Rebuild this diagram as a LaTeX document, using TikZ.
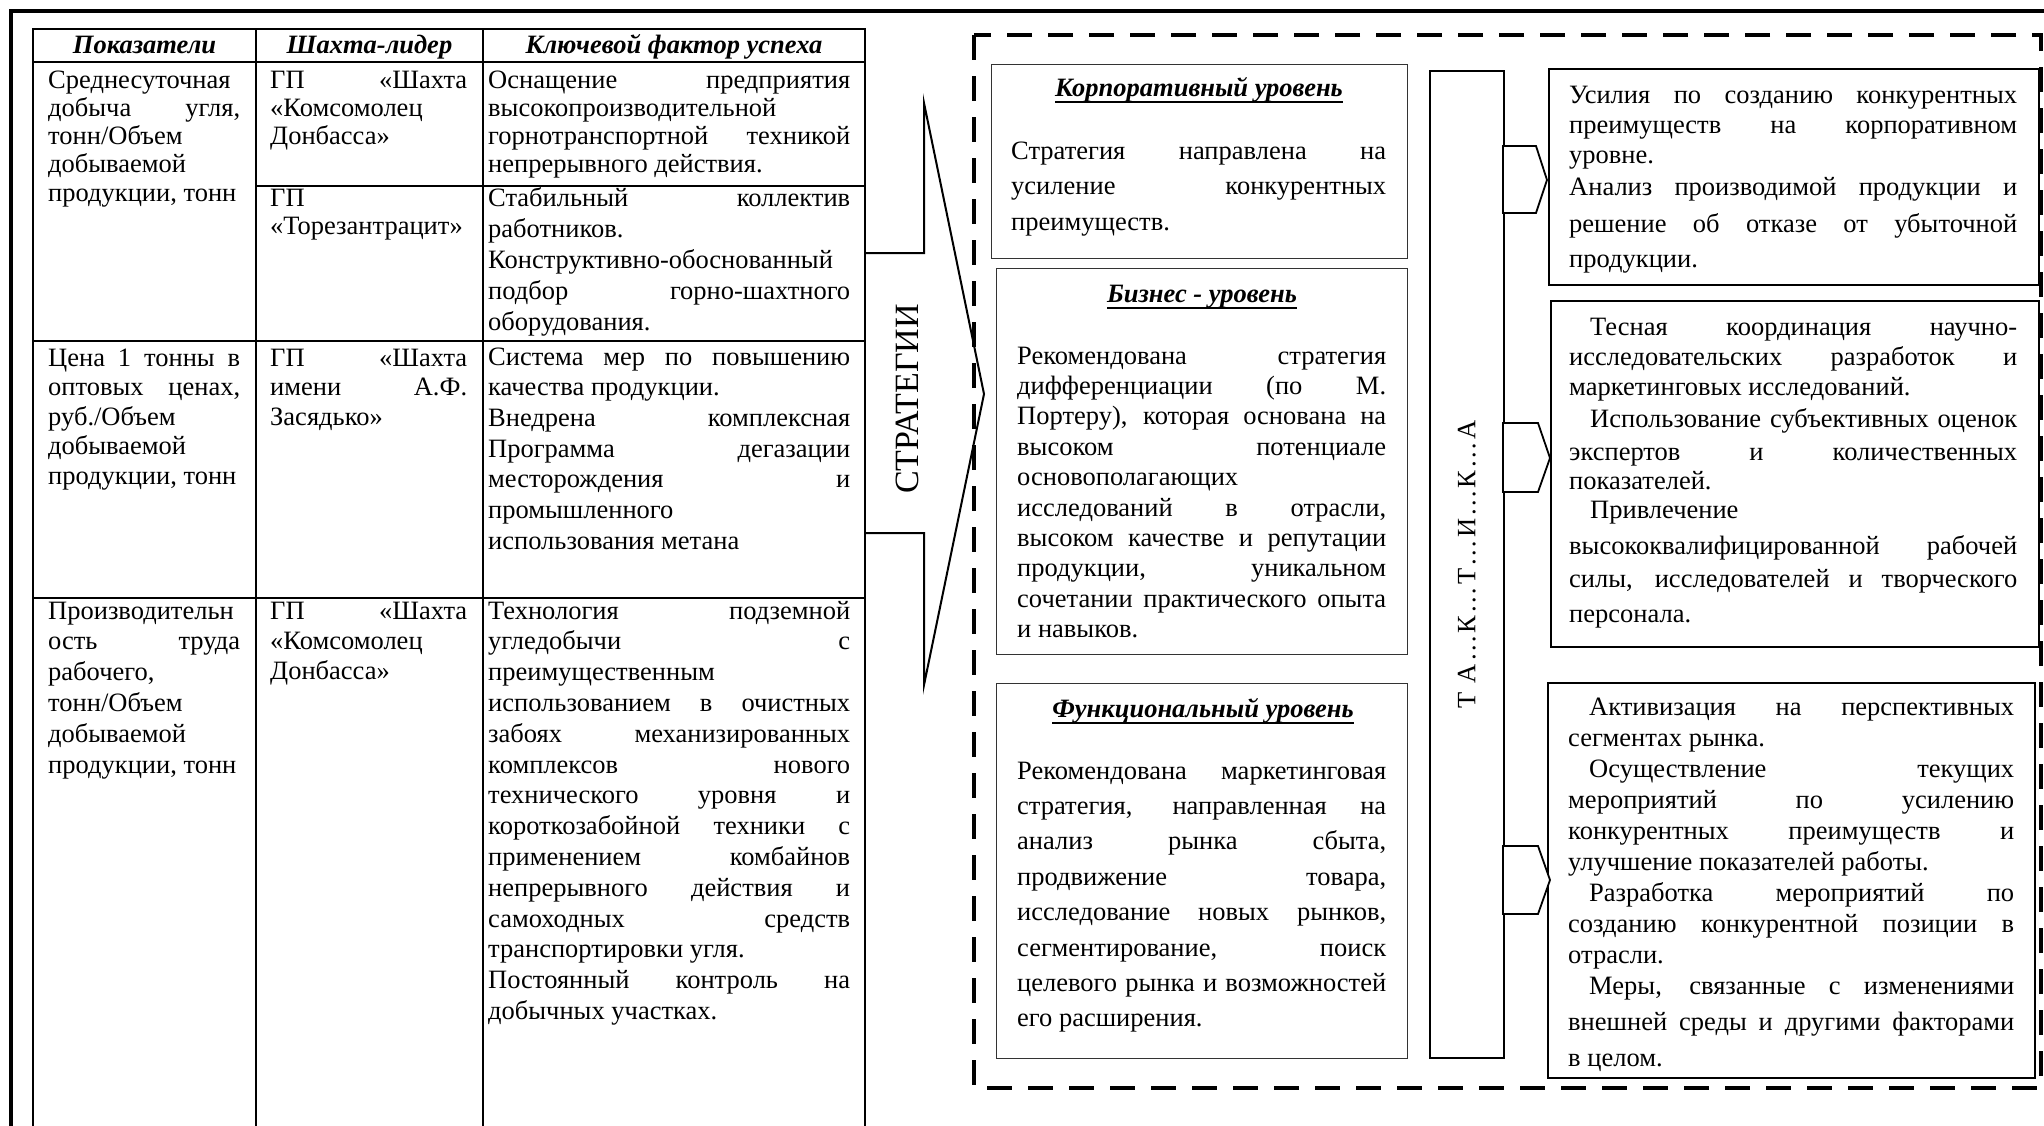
\documentclass[tikz,border=0pt]{standalone}
\usepackage{fontspec}
\setmainfont{Liberation Serif}
\newsavebox\ulbox
\newcommand\ulx[1]{\sbox\ulbox{#1}\rlap{\rule[-6.5pt]{\wd\ulbox}{1.8pt}}\usebox\ulbox}
\newcommand\J[1]{\hbox to\hsize{#1}}
\newcommand\Lf[1]{\hbox to\hsize{#1\hfil}}
\newcommand\Ind{\hskip 21pt\relax}
\newcommand\blk[3]{\vtop{\hsize=#1\baselineskip=#2\lineskip=0pt\lineskiplimit=-\maxdimen #3}}
\newcommand\sk[1]{\baselineskip=#1\relax}
\begin{document}
\begin{tikzpicture}[x=1pt,y=-1pt,font=\fontsize{26.5pt}{30pt}\selectfont,
  txt/.style={anchor=base west,inner sep=0pt},
  ttl/.style={anchor=base,inner sep=0pt},
  tbl/.style={line width=1.8pt},
  boxm/.style={draw=black!80,line width=1.4pt,anchor=north west,inner sep=0pt},
  boxr/.style={draw,line width=2.2pt,anchor=north west,inner sep=0pt},
  chev/.style={draw,fill=white,line width=1.8pt,line join=miter},
  frame/.style={line width=3.5pt},
  dashfr/.style={line width=4pt,dash pattern=on 25pt off 16pt}]
\fill[white] (0,0) rectangle (2044,1125);
\useasboundingbox (0,0) rectangle (2044,1125);

% outer frame
\draw[frame] (11,1140) -- (11,11) -- (2060,11);

% ---------------- table ----------------
\draw[tbl] (33,1140) -- (33,29) -- (865,29) -- (865,1140);
\draw[tbl] (33,62) -- (865,62);
\draw[tbl] (256,29) -- (256,1140);
\draw[tbl] (483,29) -- (483,1140);
\draw[tbl] (256,186) -- (865,186);
\draw[tbl] (33,341) -- (865,341);
\draw[tbl] (33,598) -- (865,598);

\node[ttl] (h1) at (144.5,53) {\textbf{\textit{Показатели}}};
\node[ttl] (h2) at (369.5,53) {\textbf{\textit{Шахта-лидер}}};
\node[ttl] (h3) at (674,53) {\textbf{\textit{Ключевой фактор успеха}}};

\node[txt] (c11) at (48,88) {\blk{192pt}{28.3pt}{\Lf{Среднесуточная}\J{добыча угля,}\Lf{тонн/Объем}\Lf{добываемой}\Lf{продукции, тонн}}};
\node[txt] (c12a) at (270,88) {\blk{197pt}{28.3pt}{\J{ГП «Шахта}\Lf{«Комсомолец}\Lf{Донбасса»}}};
\node[txt] (c13a) at (488,88) {\blk{362pt}{28.3pt}{\J{Оснащение предприятия}\Lf{высокопроизводительной}\J{горнотранспортной техникой}\Lf{непрерывного действия.}}};
\node[txt] (c12b) at (270,206) {\blk{197pt}{28.3pt}{\Lf{ГП}\Lf{«Торезантрацит»}}};
\node[txt] (c13b) at (488,206) {\blk{362pt}{31pt}{\J{Стабильный коллектив}\Lf{работников.}\J{Конструктивно-обоснованный}\J{подбор горно-шахтного}\Lf{оборудования.}}};

\node[txt] (c21) at (48,366) {\blk{192pt}{29.5pt}{\J{Цена 1 тонны в}\J{оптовых ценах,}\Lf{руб./Объем}\Lf{добываемой}\Lf{продукции, тонн}}};
\node[txt] (c22) at (270,366) {\blk{197pt}{29.5pt}{\J{ГП «Шахта}\J{имени А.Ф.}\Lf{Засядько»}}};
\node[txt] (c23) at (488,365) {\blk{362pt}{30.7pt}{\J{Система мер по повышению}\Lf{качества продукции.}\J{Внедрена комплексная}\J{Программа дегазации}\J{месторождения и}\Lf{промышленного}\Lf{использования метана}}};

\node[txt] (c31) at (48,619) {\blk{192pt}{30.8pt}{\Lf{Производительн}\J{ость труда}\Lf{рабочего,}\Lf{тонн/Объем}\Lf{добываемой}\Lf{продукции, тонн}}};
\node[txt] (c32) at (270,619) {\blk{197pt}{30pt}{\J{ГП «Шахта}\Lf{«Комсомолец}\Lf{Донбасса»}}};
\node[txt] (c33) at (488,619) {\blk{362pt}{30.8pt}{\J{Технология подземной}\J{угледобычи с}\Lf{преимущественным}\J{использованием в очистных}\J{забоях механизированных}\J{комплексов нового}\J{технического уровня и}\J{короткозабойной техники с}\J{применением комбайнов}\J{непрерывного действия и}\J{самоходных средств}\Lf{транспортировки угля.}\J{Постоянный контроль на}\Lf{добычных участках.}}};

% ---------------- strategy arrow ----------------
\coordinate (a0) at (865,253);
\coordinate (a6) at (865,533);
\draw[line width=2pt,line join=miter] (a0) -- (924,253) -- (924,103) -- (984,394) -- (924,685) -- (924,533) -- (a6);
\node[rotate=90,inner sep=0pt,font=\fontsize{34pt}{38pt}\selectfont] (strat) at (907,399) {СТРАТЕГИИ};

% ---------------- dashed frame ----------------
\draw[dashfr] (974,35) rectangle (2041,1088);

% ---------------- levels ----------------
\node[boxm,minimum width=416pt,minimum height=194pt] (corp) at (991,64) {};
\node[ttl] (t1) at (1199,96) {\ulx{\textbf{\textit{Корпоративный уровень}}}};
\node[txt] (b1) at (1011,159) {\blk{375pt}{35.7pt}{\J{Стратегия направлена на}\J{усиление конкурентных}\Lf{преимуществ.}}};

\node[boxm,minimum width=411pt,minimum height=386pt] (bus) at (996,268) {};
\node[ttl] (t2) at (1202,302) {\ulx{\textbf{\textit{Бизнес - уровень}}}};
\node[txt] (b2) at (1017,364) {\blk{369pt}{30.4pt}{\J{Рекомендована стратегия}\J{дифференциации (по М.}\J{Портеру), которая основана на}\J{высоком потенциале}\Lf{основополагающих}\J{исследований в отрасли,}\J{высоком качестве и репутации}\J{продукции, уникальном}\J{сочетании практического опыта}\Lf{и навыков.}}};

\node[boxm,minimum width=411pt,minimum height=375pt] (fun) at (996,683) {};
\node[ttl] (t3) at (1203,717) {\ulx{\textbf{\textit{Функциональный уровень}}}};
\node[txt] (b3) at (1017,779) {\blk{369pt}{35.4pt}{\J{Рекомендована маркетинговая}\J{стратегия, направленная на}\J{анализ рынка сбыта,}\J{продвижение товара,}\J{исследование новых рынков,}\J{сегментирование, поиск}\J{целевого рынка и возможностей}\Lf{его расширения.}}};

% ---------------- tactics ----------------
\node[draw,line width=1.6pt,anchor=north west,inner sep=0pt,minimum width=74pt,minimum height=987pt] (tac) at (1429,70) {};
\node[rotate=90,inner sep=0pt] (tact) at (tac.center) {\addfontfeature{LetterSpace=8}Т А…К…Т…И…К…А};

\node[boxr,minimum width=490pt,minimum height=216pt] (r1) at (1548,68) {};
\node[boxr,minimum width=488pt,minimum height=346pt] (r2) at (1550,300) {};
\node[boxr,minimum width=487pt,minimum height=395pt] (r3) at (1547,682) {};

\draw[chev] (1503,146) -- (1536,146) -- (1547,180) -- (1536,213) -- (1503,213) -- cycle;
\draw[chev] (1503,423) -- (1538,423) -- (1550,458) -- (1538,492) -- (1503,492) -- cycle;
\draw[chev] (1503,846) -- (1538,846) -- (1550,880) -- (1538,914) -- (1503,914) -- cycle;

\node[txt] (rt1) at (1569,103) {\blk{448pt}{30pt}{\J{Усилия по созданию конкурентных}\J{преимуществ на корпоративном}\Lf{уровне.}\sk{32pt}\J{Анализ производимой продукции и}\sk{37pt}\J{решение об отказе от убыточной}\sk{35pt}\Lf{продукции.}}};

\node[txt] (rt2) at (1569,335) {\blk{448pt}{30pt}{\J{\Ind Тесная координация научно-}\J{исследовательских разработок и}\Lf{маркетинговых исследований.}\sk{32.5pt}\J{\Ind Использование субъективных оценок}\J{экспертов и количественных}\sk{29pt}\Lf{показателей.}\Lf{\Ind Привлечение}\sk{36pt}\J{высококвалифицированной рабочей}\sk{33pt}\J{силы, исследователей и творческого}\sk{35pt}\Lf{персонала.}}};

\node[txt] (rt3) at (1568,715) {\blk{446pt}{31pt}{\J{\Ind Активизация на перспективных}\Lf{сегментах рынка.}\J{\Ind Осуществление текущих}\J{мероприятий по усилению}\J{конкурентных преимуществ и}\Lf{улучшение показателей работы.}\J{\Ind Разработка мероприятий по}\J{созданию конкурентной позиции в}\Lf{отрасли.}\J{\Ind Меры, связанные с изменениями}\sk{36pt}\J{внешней среды и другими факторами}\Lf{в целом.}}};
\end{tikzpicture}
\end{document}
